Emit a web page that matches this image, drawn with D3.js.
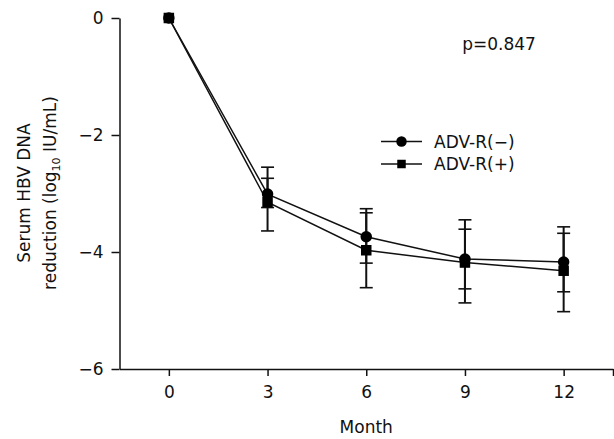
<!DOCTYPE html>
<html>
<head>
<meta charset="utf-8">
<script src="https://cdn.jsdelivr.net/npm/d3@7"></script>
<style>
  body { margin: 0; background: #fff; }
  svg text { font-family: "DejaVu Sans", sans-serif; fill: #111; }
</style>
</head>
<body>
<div id="plot"></div>
<script>
// data
var months = [0, 3, 6, 9, 12];
var seriesNames = ['ADV-R(\u2212)', 'ADV-R(+)'];
var meanNeg = [0, -3.01, -3.74, -4.12, -4.17];   // circles
var hiNeg   = [0, -2.55, -3.26, -3.45, -3.57];
var loNeg   = [0, -3.24, -4.19, -4.87, -4.68];
var meanPos = [0, -3.15, -3.97, -4.18, -4.32];   // squares
var hiPos   = [0, -2.74, -3.33, -3.61, -3.68];
var loPos   = [0, -3.64, -4.61, -4.63, -5.02];
var yTicks = [0, -2, -4, -6];
var xTicks = [0, 3, 6, 9, 12];
var pLabel = 'p=0.847';

var width = 614, height = 439;
var fs = 17;

var svg = d3.select('#plot').append('svg')
    .attr('width', width)
    .attr('height', height);

var x = d3.scaleLinear().domain([-1.5, 13.5]).range([119.5, 613]);
var y = d3.scaleLinear().domain([-6, 0]).range([369, 18]);

// build point arrays
function makeSeries(mean, hi, lo) {
    return months.map(function(m, i) {
        return {m: m, v: mean[i], hi: hi[i], lo: lo[i]};
    });
}
var series = [
    {name: seriesNames[0], shape: 'circle', pts: makeSeries(meanNeg, hiNeg, loNeg)},
    {name: seriesNames[1], shape: 'square', pts: makeSeries(meanPos, hiPos, loPos)}
];

// axes
var xAxis = d3.axisBottom(x)
    .tickValues(xTicks.concat([13.5]))
    .tickSize(7)
    .tickSizeOuter(0)
    .tickPadding(10)
    .tickFormat(function(d){ return d === 13.5 ? '' : d3.format('d')(d); });

var gx = svg.append('g')
    .attr('transform', 'translate(0,' + y(-6) + ')')
    .call(xAxis);

var yAxis = d3.axisLeft(y)
    .tickValues(yTicks)
    .tickSize(8)
    .tickSizeOuter(0)
    .tickPadding(8)
    .tickFormat(d3.format('d'));

var gy = svg.append('g')
    .attr('transform', 'translate(' + x(-1.5) + ',0)')
    .call(yAxis);

svg.selectAll('.domain, .tick line')
    .attr('stroke', '#111')
    .attr('stroke-width', 1.5);
svg.selectAll('.tick text')
    .attr('font-size', fs)
    .attr('font-family', '"DejaVu Sans", sans-serif')
    .attr('fill', '#111');

// axis titles
svg.append('text')
    .attr('x', x(6))
    .attr('y', 433)
    .attr('text-anchor', 'middle')
    .attr('font-size', fs)
    .text('Month');

var yt = svg.append('text')
    .attr('transform', 'translate(30,193) rotate(-90)')
    .attr('text-anchor', 'middle')
    .attr('font-size', fs);
yt.append('tspan').attr('x', 0).attr('dy', 0).text('Serum HBV DNA');
yt.append('tspan').attr('x', 0).attr('dy', 26).text('reduction (log');
yt.append('tspan').attr('font-size', 11).attr('dy', 4).text('10');
yt.append('tspan').attr('dy', -4).text(' IU/mL)');

// lines
var line = d3.line()
    .x(function(d){ return x(d.m); })
    .y(function(d){ return y(d.v); });

series.forEach(function(s) {
    svg.append('path')
        .datum(s.pts)
        .attr('d', line)
        .attr('fill', 'none')
        .attr('stroke', '#111')
        .attr('stroke-width', 1.5);
});

// error bars
var capW = 6.5;
series.forEach(function(s) {
    var g = svg.append('g').attr('class', 'err');
    var pts = s.pts.filter(function(d){ return d.hi !== d.lo; });
    g.selectAll('.stem').data(pts).enter().append('line')
        .attr('x1', function(d){ return x(d.m); })
        .attr('x2', function(d){ return x(d.m); })
        .attr('y1', function(d){ return y(d.hi); })
        .attr('y2', function(d){ return y(d.lo); })
        .attr('stroke', '#111').attr('stroke-width', 2);
    ['hi', 'lo'].forEach(function(k) {
        g.selectAll('.cap-' + k).data(pts).enter().append('line')
            .attr('x1', function(d){ return x(d.m) - capW; })
            .attr('x2', function(d){ return x(d.m) + capW; })
            .attr('y1', function(d){ return y(d[k]); })
            .attr('y2', function(d){ return y(d[k]); })
            .attr('stroke', '#111').attr('stroke-width', 1.6);
    });
});

// markers
function drawMarker(sel, shape, cx, cy, size) {
    if (shape === 'circle') {
        sel.append('circle').attr('cx', cx).attr('cy', cy).attr('r', size / 2).attr('fill', '#000');
    } else {
        sel.append('rect').attr('x', cx - size / 2).attr('y', cy - size / 2)
            .attr('width', size).attr('height', size).attr('fill', '#000');
    }
}

series.forEach(function(s) {
    s.pts.forEach(function(d) {
        drawMarker(svg, s.shape, x(d.m), y(d.v), s.shape === 'circle' ? 11.5 : 10.5);
    });
});

// legend
var legY = [141.5, 164];
series.forEach(function(s, i) {
    svg.append('line')
        .attr('x1', 381).attr('x2', 422)
        .attr('y1', legY[i]).attr('y2', legY[i])
        .attr('stroke', '#111').attr('stroke-width', 1.5);
    drawMarker(svg, s.shape, 401.5, legY[i], s.shape === 'circle' ? 10.5 : 8.5);
    svg.append('text')
        .attr('x', 434)
        .attr('y', legY[i] + 6)
        .attr('font-size', fs)
        .text(s.name);
});

// p value
svg.append('text')
    .attr('x', 499)
    .attr('y', 50)
    .attr('text-anchor', 'middle')
    .attr('font-size', fs)
    .text(pLabel);
</script>
</body>
</html>
